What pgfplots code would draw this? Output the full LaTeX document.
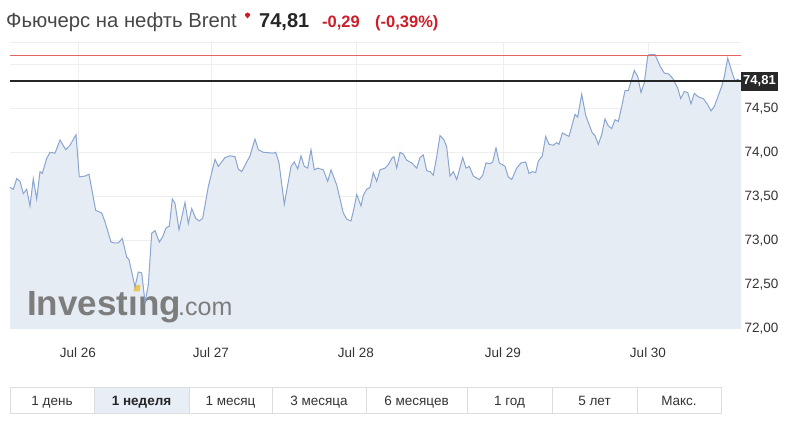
\documentclass[border=0pt]{standalone}
\usepackage{pgfplots}
\pgfplotsset{compat=1.18}
\usepackage{pgfplotstable}
\usepackage{fontspec}
\setmainfont{Liberation Sans}
\definecolor{linec}{RGB}{138,165,208}
\definecolor{fillc}{RGB}{230,236,244}
\definecolor{gridc}{RGB}{238,238,238}
\definecolor{txt}{RGB}{51,51,51}
\definecolor{redc}{RGB}{204,30,40}
\definecolor{limitred}{RGB}{228,100,100}
\definecolor{btnbg}{RGB}{232,238,246}
\definecolor{btnb}{RGB}{221,221,221}
\definecolor{wm}{RGB}{125,125,125}
\definecolor{gold}{RGB}{232,200,90}
\definecolor{lblbg}{RGB}{40,40,40}

\pgfplotstableread{
x y
10 73.60
13.3 73.58
16.7 73.70
20 73.67
23.3 73.53
26.7 73.58
30 73.39
33.3 73.70
36.7 73.47
40 73.78
42.3 73.76
46.7 73.93
50 74.00
55 73.99
60 74.14
65.7 74.03
70 74.08
76 74.20
79.3 73.72
85 73.73
89 73.75
95.7 73.34
101.7 73.31
105 73.21
111 72.98
115 72.97
118.3 72.97
122.3 73.02
126.7 72.81
129 72.78
135 72.47
138.3 72.64
141.7 72.63
145 72.30
148.3 72.49
151.7 73.08
155 73.11
159.3 72.98
162.7 73.04
166 73.14
169.3 73.16
172.3 73.47
175 73.42
179 73.12
185 73.43
188.3 73.19
191.7 73.36
195.7 73.25
199.3 73.22
202.7 73.25
208.3 73.61
215 73.92
218.3 73.84
225 73.94
230 73.96
235 73.95
238.3 73.81
241.7 73.78
250 73.96
255 74.15
258.3 74.03
263.3 74.00
273.3 73.99
275.7 74.00
279 73.88
284.3 73.41
291 73.84
294.3 73.89
297.7 73.81
301 73.96
304.3 73.84
307.7 73.82
311 74.03
314.3 73.80
317.7 73.82
323.3 73.80
327.7 73.67
331 73.80
336.7 73.63
343.3 73.31
346.7 73.24
351 73.22
354.3 73.38
356.7 73.52
361 73.39
363.3 73.51
366.7 73.58
370 73.60
373.3 73.77
376.7 73.67
380 73.80
385 73.82
388.3 73.86
391.7 73.93
394 73.95
396.7 73.82
400 74.00
403.3 73.98
406.7 73.91
411.7 73.88
416.7 73.82
420 73.94
423.3 73.97
426.7 73.79
430 73.78
433.3 73.74
436.7 73.95
440 74.19
444 74.14
446.7 74.06
450 73.73
453.3 73.78
456.7 73.69
462.7 73.94
466 73.82
469.3 73.84
473.3 73.73
479.3 73.69
482.7 73.74
486 73.88
490 73.87
492.7 73.89
496 74.05
499.3 73.88
505 73.84
508.3 73.72
511.7 73.69
516.7 73.82
521 73.88
525.7 73.89
529 73.76
532.3 73.78
535.7 73.77
538.3 73.90
542.3 73.96
545.7 74.18
549 74.09
553.3 74.08
556.7 74.11
559 74.09
562.3 74.22
565.7 74.20
569 74.18
575 74.43
577.7 74.40
581.7 74.66
585.7 74.42
592.3 74.22
595 74.19
598.3 74.09
601.7 74.20
605 74.38
608.3 74.30
611.7 74.27
615 74.37
618.3 74.35
621.7 74.52
625 74.70
628.3 74.70
634.3 74.93
637.7 74.86
641 74.68
644.3 74.79
647.7 75.09
649 75.11
655 75.11
660 74.98
664.3 74.90
669 74.89
673.3 74.83
677.7 74.73
680.7 74.61
684.3 74.69
687.7 74.68
691 74.55
694.3 74.67
698.3 74.63
703.3 74.61
707.7 74.54
711 74.47
714.3 74.52
721.7 74.75
724.3 74.86
727.7 75.07
731.7 74.92
735 74.81
737.7 74.83
740 74.81
741 74.81
}\brent

\begin{document}
\begin{tikzpicture}
\useasboundingbox (0pt,0pt) rectangle (808pt,425pt);
% title
\node[anchor=base west, inner sep=0pt, text=txt!90!white, font=\fontsize{20.3}{22}\selectfont] at (6pt,397.5pt) {Фьючерс на нефть Brent};
\fill[redc] (245pt,411pt) -- (247.5pt,412.5pt) -- (250pt,411pt) -- (250pt,409.5pt) -- (247.5pt,406.5pt) -- (245pt,409.5pt) -- cycle;
\node[anchor=base west, inner sep=0pt, text=black!85, font=\fontsize{20}{22}\selectfont\bfseries] at (259pt,397.5pt) {74,81};
\node[anchor=base west, inner sep=0pt, text=redc, font=\fontsize{16.5}{18}\selectfont\bfseries] at (322pt,397.5pt) {-0,29};
\node[anchor=base west, inner sep=0pt, text=redc, font=\fontsize{16.5}{18}\selectfont\bfseries] at (375pt,397.5pt) {(-0,39\%)};

\begin{axis}[
  at={(10pt,96pt)}, anchor=south west,
  scale only axis, width=731pt, height=287pt,
  xmin=10, xmax=741, ymin=71.992, ymax=75.2534,
  clip mode=individual,
  axis line style={draw=none},
  major tick length=0pt,
  tick style={draw=none},
  xtick={78,211,356,503,648},
  xticklabels={Jul 26,Jul 27,Jul 28,Jul 29,Jul 30},
  xticklabel style={yshift=-15pt},
  ytick={72,72.5,73,73.5,74,74.5},
  extra y ticks={75,75.25},
  extra y tick labels={},
  extra y tick style={grid=major},
  grid=major,
  grid style={gridc, line width=0.8pt},
  yticklabel pos=right,
  ticklabel style={font=\fontsize{13.5}{15}\selectfont, text=txt},
  /pgf/number format/.cd, fixed, fixed zerofill, precision=2, use comma, assume math mode=true
]
\addplot[draw=none, fill=fillc] table {\brent} \closedcycle;
\node[anchor=base west, inner sep=0pt, text=wm, font=\fontsize{35}{40}\selectfont\bfseries] at (axis cs:27,72.14) {Investıng};
\node[anchor=base west, inner sep=0pt, text=wm, font=\fontsize{25}{30}\selectfont] at (axis cs:178,72.14) {.com};
\fill[gold] (axis cs:133.5,72.42) -- (axis cs:139.5,72.42) -- (axis cs:140.5,72.49) -- (axis cs:134.5,72.49) -- cycle;
\addplot[linec, line width=1pt] table {\brent};
\addplot[limitred, line width=1pt, mark=none, solid] table {
x y
10 75.10
741 75.10
};
\addplot[draw=black!85, line width=1.3pt, mark=none] coordinates {(10,74.81) (741,74.81)};
\node[anchor=west, fill=lblbg, text=white, inner xsep=2pt, inner ysep=0pt, minimum height=19pt, font=\fontsize{13}{15}\selectfont\bfseries] at (axis cs:741,74.81) {74,81};
\end{axis}

% buttons
\fill[btnbg] (94pt,12pt) rectangle (189pt,38pt);
\draw[btnb, line width=0.8pt] (10pt,12pt) rectangle (721pt,38pt);
\foreach \xx in {94,189,272,366,467,552,637} {\draw[btnb, line width=0.8pt] (\xx pt,12pt) -- (\xx pt,38pt);}
\foreach \cx/\lab in {52/{1 день},230.5/{1 месяц},319/{3 месяца},416.5/{6 месяцев},509.5/{1 год},594.5/{5 лет},679/{Макс.}} {
  \node[anchor=base, inner sep=0pt, text=txt, font=\fontsize{13.5}{16}\selectfont] at (\cx pt,19pt) {\lab};
}
\node[anchor=base, inner sep=0pt, text=black!85, font=\fontsize{13.5}{16}\selectfont\bfseries] at (141.5pt,19pt) {1 неделя};
\end{tikzpicture}
\end{document}
